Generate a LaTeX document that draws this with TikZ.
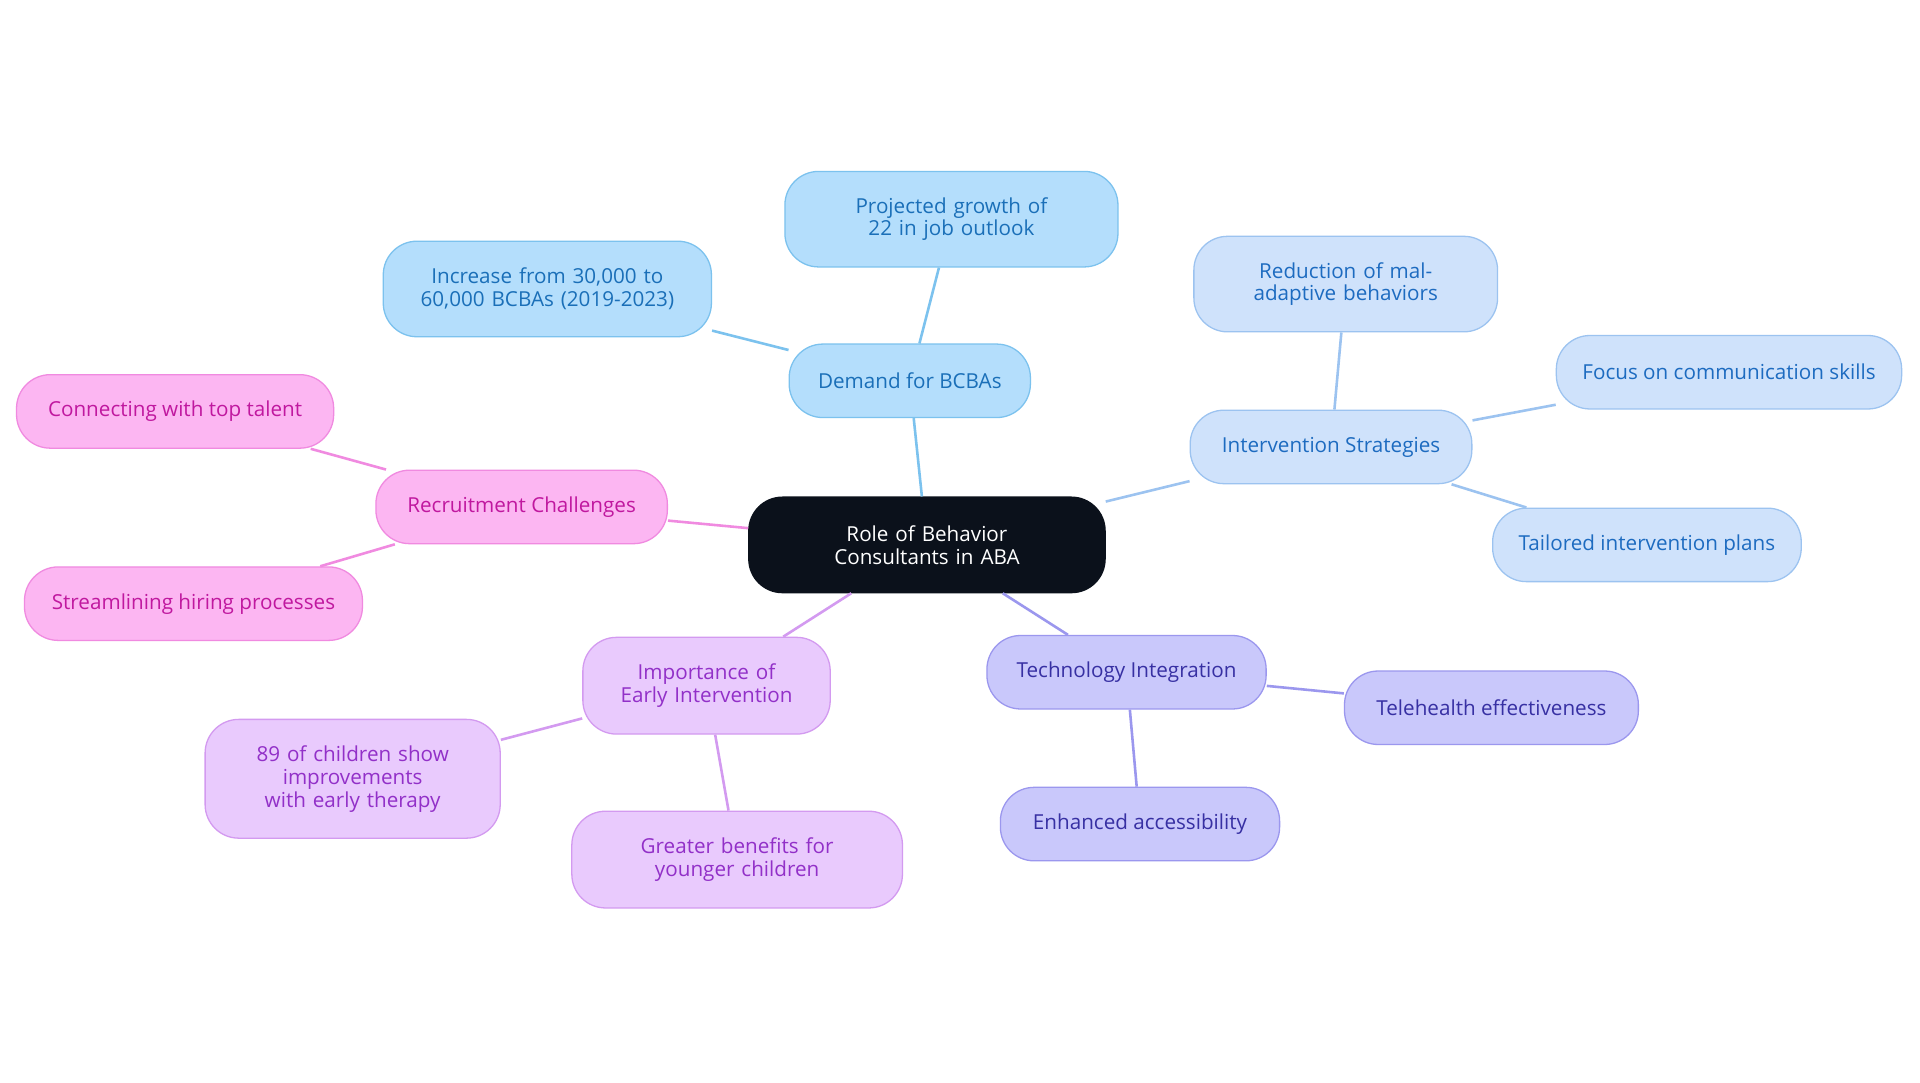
\documentclass[tikz,border=0pt]{standalone}
\usepackage{fontspec}
\setmainfont{Open Sans}
\begin{document}
\begin{tikzpicture}[x=0.02cm,y=-0.02cm,
 box/.style={rounded corners=0.55cm,draw,line width=0.6pt,align=center,font=\fontsize{9.6}{10.6}\selectfont,inner sep=0pt},
 blue/.style={box,fill=Bfill,draw=Bdraw,text=Btext},
 lblue/.style={box,fill=Lfill,draw=Ldraw,text=Ltext},
 violet/.style={box,fill=Vfill,draw=Vdraw,text=Vtext},
 purp/.style={box,fill=Pfill,draw=Pdraw,text=Ptext},
 pink/.style={box,fill=Kfill,draw=Kdraw,text=Ktext},
 ed/.style={line width=1.2pt}]
\definecolor{Bfill}{HTML}{B4DEFC}\definecolor{Bdraw}{HTML}{7CC2EE}\definecolor{Btext}{HTML}{1A6FB8}
\definecolor{Lfill}{HTML}{CFE2FB}\definecolor{Ldraw}{HTML}{9CC3F0}\definecolor{Ltext}{HTML}{1D6BC0}
\definecolor{Vfill}{HTML}{C9C8FB}\definecolor{Vdraw}{HTML}{9B97EE}\definecolor{Vtext}{HTML}{3730A3}
\definecolor{Pfill}{HTML}{E9CAFD}\definecolor{Pdraw}{HTML}{D39AF0}\definecolor{Ptext}{HTML}{9230C8}
\definecolor{Kfill}{HTML}{FCB6F2}\definecolor{Kdraw}{HTML}{F08AE0}\definecolor{Ktext}{HTML}{C0189F}
\definecolor{Cfill}{HTML}{0B111B}
\useasboundingbox[fill=white] (0,0) rectangle (1568,884);
\node[box,fill=Cfill,draw=Cfill,text=white,minimum width=291*0.02cm,minimum height=78*0.02cm,text width=270*0.02cm] (c) at (757,445) {Role of Behavior Consultants in ABA};
\node[blue,minimum width=197*0.02cm,minimum height=60*0.02cm] (d) at (743,311) {Demand for BCBAs};
\node[blue,minimum width=272*0.02cm,minimum height=78*0.02cm,text width=240*0.02cm] (d1) at (777,179) {Projected growth of 22 in job outlook};
\node[blue,minimum width=268*0.02cm,minimum height=78*0.02cm,text width=240*0.02cm] (d2) at (447,236) {Increase from 30,000 to 60,000 BCBAs (2019-2023)};
\node[lblue,minimum width=230*0.02cm,minimum height=60*0.02cm] (i) at (1087,365) {Intervention Strategies};
\node[lblue,minimum width=248*0.02cm,minimum height=78*0.02cm,text width=220*0.02cm] (i1) at (1099,232) {Reduction of maladaptive behaviors};
\node[lblue,minimum width=282*0.02cm,minimum height=60*0.02cm] (i2) at (1412,304) {Focus on communication skills};
\node[lblue,minimum width=252*0.02cm,minimum height=60*0.02cm] (i3) at (1345,445) {Tailored intervention plans};
\node[violet,minimum width=228*0.02cm,minimum height=60*0.02cm] (t) at (920,549) {Technology Integration};
\node[violet,minimum width=240*0.02cm,minimum height=60*0.02cm] (t1) at (1218,578) {Telehealth effectiveness};
\node[violet,minimum width=228*0.02cm,minimum height=60*0.02cm] (t2) at (931,673) {Enhanced accessibility};
\node[purp,minimum width=202*0.02cm,minimum height=79*0.02cm,text width=170*0.02cm] (e) at (577,560) {Importance of Early Intervention};
\node[purp,minimum width=241*0.02cm,minimum height=97*0.02cm,text width=210*0.02cm] (e1) at (288,636) {89 of children show improvements with early therapy};
\node[purp,minimum width=270*0.02cm,minimum height=79*0.02cm,text width=240*0.02cm] (e2) at (602,702) {Greater benefits for younger children};
\node[pink,minimum width=238*0.02cm,minimum height=60*0.02cm] (r) at (426,414) {Recruitment Challenges};
\node[pink,minimum width=259*0.02cm,minimum height=60*0.02cm] (r1) at (143,336) {Connecting with top talent};
\node[pink,minimum width=276*0.02cm,minimum height=60*0.02cm] (r2) at (158,493) {Streamlining hiring processes};
\begin{scope}[on background layer/.try]
\end{scope}
\draw[ed,Bdraw] (c) -- (d) (d) -- (d1) (d) -- (d2);
\draw[ed,Ldraw] (c) -- (i) (i) -- (i1) (i) -- (i2) (i) -- (i3);
\draw[ed,Vdraw] (c) -- (t) (t) -- (t1) (t) -- (t2);
\draw[ed,Pdraw] (c) -- (e) (e) -- (e1) (e) -- (e2);
\draw[ed,Kdraw] (c) -- (r) (r) -- (r1) (r) -- (r2);
\end{tikzpicture}
\end{document}
